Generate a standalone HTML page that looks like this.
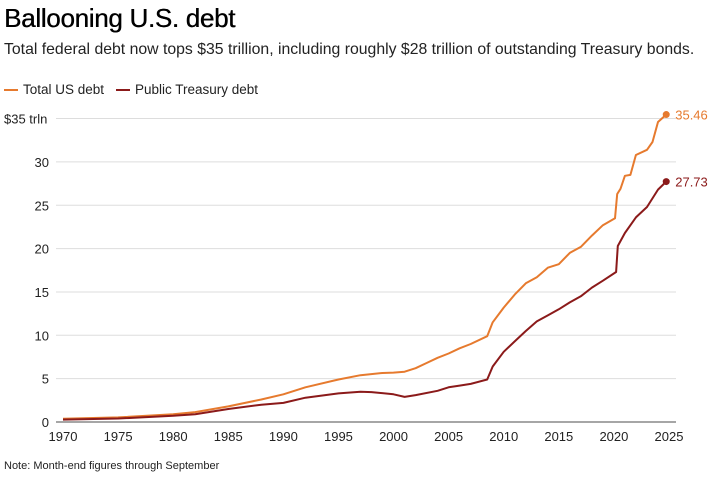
<!DOCTYPE html>
<html><head><meta charset="utf-8"><style>
body{margin:0;background:#fff;font-family:"Liberation Sans",Arial,sans-serif;}
#wrap{position:relative;width:716px;height:478px;overflow:hidden}
.t{position:absolute;white-space:nowrap}
</style></head><body><div id="wrap">
<div class="t" style="left:4px;top:3px;font-size:26px;color:#000;letter-spacing:-0.3px;text-shadow:0.4px 0 0 #000">Ballooning U.S. debt</div>
<div class="t" style="left:4px;top:41px;font-size:15.8px;color:#222">Total federal debt now tops $35 trillion, including roughly $28 trillion of outstanding Treasury bonds.</div>
<div class="t" style="left:4px;top:82px;font-size:13.5px;color:#222"><span style="display:inline-block;width:14px;height:2px;background:#e67a2e;vertical-align:middle;margin-right:5px"></span>Total US debt</div>
<div class="t" style="left:116px;top:82px;font-size:13.5px;color:#222"><span style="display:inline-block;width:14px;height:2px;background:#8b1a1a;vertical-align:middle;margin-right:5px"></span>Public Treasury debt</div>
<div class="t" style="left:4px;top:460px;font-size:11px;color:#222">Note: Month-end figures through September</div>
<svg id="chart" width="716" height="478" style="position:absolute;left:0;top:0"></svg>
</div>
<script>
const totalYears=[1970,1975,1980,1982,1985,1988,1990,1992,1995,1997,1999,2000,2001,2002,2003,2004,2005,2006,2007,2008.5,2009,2010,2011,2012,2013,2014,2015,2016,2017,2018,2019,2020.1,2020.3,2020.6,2021,2021.5,2022,2023,2023.5,2024,2024.75];
const totalVals=[0.37,0.53,0.9,1.14,1.8,2.6,3.2,4.0,4.9,5.4,5.65,5.7,5.8,6.2,6.8,7.4,7.9,8.5,9.0,9.9,11.5,13.2,14.7,16.0,16.7,17.8,18.2,19.5,20.2,21.5,22.7,23.5,26.3,26.9,28.4,28.5,30.8,31.4,32.3,34.6,35.46];
const pubYears=[1970,1975,1980,1982,1985,1988,1990,1992,1995,1997,1998,2000,2001,2002,2004,2005,2006,2007,2008.5,2009,2010,2011,2012,2013,2014,2015,2016,2017,2018,2019,2020.2,2020.35,2021,2022,2023,2024,2024.75];
const pubVals=[0.28,0.4,0.71,0.9,1.5,2.0,2.2,2.8,3.3,3.5,3.45,3.2,2.9,3.1,3.6,4.0,4.2,4.4,4.9,6.4,8.1,9.3,10.5,11.6,12.3,13.0,13.8,14.5,15.5,16.3,17.3,20.3,21.8,23.6,24.8,26.8,27.73];
const yTicks=[0,5,10,15,20,25,30,35];
const yLabels=["0","5","10","15","20","25","30","$35 trln"];
const xTicks=[1970,1975,1980,1985,1990,1995,2000,2005,2010,2015,2020,2025];
const svg=document.getElementById('chart');const NS='http://www.w3.org/2000/svg';
const x=v=>63+(v-1970)*11.018, y=v=>422-v*8.67;
function mk(t,a){const e=document.createElementNS(NS,t);for(const k in a)e.setAttribute(k,a[k]);svg.appendChild(e);return e;}
yTicks.forEach((v,i)=>{
 const g=mk('line',{x1:56,x2:676,y1:y(v),y2:y(v),stroke:v===0?'#888':'#ddd','stroke-width':v===0?1.5:1});
 
 
 const t=mk('text',{x:v===35?4:49,y:y(v)+5,'font-size':13,fill:'#222','text-anchor':v===35?'start':'end','font-family':'Liberation Sans, sans-serif'});t.textContent=yLabels[i];
 
 
});
xTicks.forEach(v=>{
 const t=mk('text',{x:x(v),y:441,'font-size':13,fill:'#222','text-anchor':'middle','font-family':'Liberation Sans, sans-serif'});t.textContent=v;
 
 
});
function series(xs,vs,c,name){
 const p=mk('path',{d:xs.map((v,i)=>(i?'L':'M')+x(v).toFixed(1)+','+y(vs[i]).toFixed(1)).join(''),fill:'none',stroke:c,'stroke-width':2,'stroke-linejoin':'round'});
 
 
 const n=xs.length-1;
 const d=mk('circle',{cx:x(xs[n]),cy:y(vs[n]),r:3.5,fill:c});
 
 
 const t=mk('text',{x:x(xs[n])+9,y:y(vs[n])+5,'font-size':13,fill:c,'font-family':'Liberation Sans, sans-serif'});t.textContent=vs[n].toFixed(2);
 
 
}
series(totalYears,totalVals,'#e67a2e','total-debt');
series(pubYears,pubVals,'#8b1a1a','public-debt');
</script></body></html>
